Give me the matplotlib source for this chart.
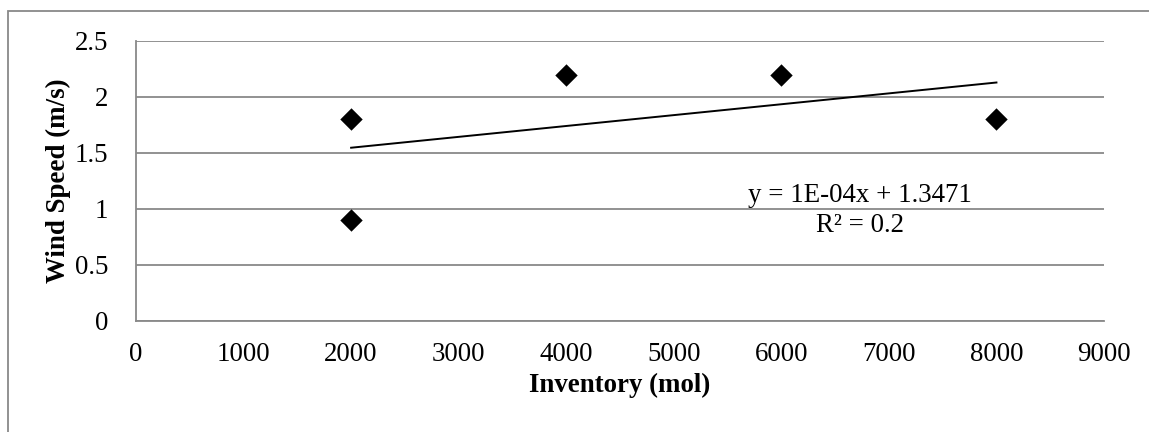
import numpy as np
import matplotlib
matplotlib.use("Agg")
import matplotlib.pyplot as plt
from matplotlib.patches import Rectangle

inventory = [2000, 2000, 4000, 6000, 8000]
wind_speed = [1.8, 0.9, 2.2, 2.2, 1.8]
x_ticks = [0, 1000, 2000, 3000, 4000, 5000, 6000, 7000, 8000, 9000]
y_ticks = [0, 0.5, 1, 1.5, 2, 2.5]
y_tick_labels = ["0", "0.5", "1", "1.5", "2", "2.5"]
eq_text = "y = 1E-04x + 1.3471\nR² = 0.2"

plt.rcParams['font.family'] = ['Liberation Serif', 'DejaVu Serif']

W, H, DPI = 1149, 432, 100
FS = 19.4
fig = plt.figure(figsize=(W / DPI, H / DPI), dpi=DPI)
ax = fig.add_axes([136 / W, 1 - 321 / H, (1104 - 136) / W, (321 - 41) / H])

grey = '#898989'
ax.set_xlim(0, 9000)
ax.set_ylim(0, 2.5)
ax.set_yticks(y_ticks)
ax.set_yticklabels(y_tick_labels)
ax.set_xticks(x_ticks)
ax.grid(axis='y', color=grey, linewidth=1.3)
ax.set_axisbelow(True)
for s in ['top', 'right']:
    ax.spines[s].set_visible(False)
for s in ['left', 'bottom']:
    ax.spines[s].set_color(grey)
    ax.spines[s].set_linewidth(1.3)
ax.tick_params(length=0, labelsize=FS, colors='black')
ax.tick_params(axis='y', pad=20)
ax.tick_params(axis='x', pad=15)

ax.scatter(inventory, wind_speed, marker='D', s=130, color='black', zorder=3, linewidths=0)

coef = np.polyfit(inventory, wind_speed, 1)
xs = np.array([min(inventory), max(inventory)])
ax.plot(xs, np.polyval(coef, xs), color='black', linewidth=1.4, zorder=2)

ax.text(6730, 0.985, eq_text, ha='center', va='center', fontsize=FS, linespacing=1.25)

ax.set_xlabel("Inventory (mol)", fontsize=FS, fontweight='bold', labelpad=4)
ax.set_ylabel("Wind Speed (m/s)", fontsize=FS, fontweight='bold', labelpad=3)

fig.patches.append(Rectangle((8 / W, -0.1), 1.2, 1 - 11 / H + 0.1,
                             transform=fig.transFigure, fill=False,
                             edgecolor=grey, linewidth=1.3))

fig.savefig("out.png", dpi=DPI)
